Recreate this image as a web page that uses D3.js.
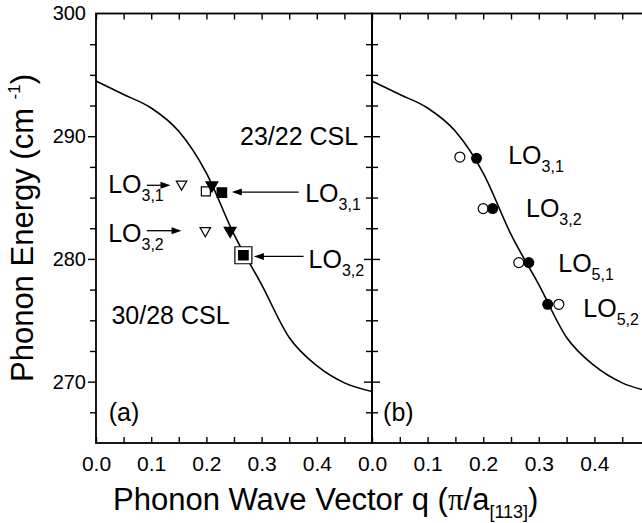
<!DOCTYPE html>
<html>
<head>
<meta charset="utf-8">
<title>Phonon dispersion, 23/22 and 30/28 CSL</title>
<style>
body { margin: 0; background: #fff; }
svg text { font-family: "Liberation Sans", Arial, Helvetica, sans-serif; fill: #000; }
</style>
</head>
<body>
<div id="chart"></div>
<script src="https://cdn.jsdelivr.net/npm/d3@7/dist/d3.min.js"></script>
<script>

// bulk LO dispersion, same curve drawn in both panels
var curveQ = [0, 0.05, 0.10, 0.15, 0.20, 0.25, 0.30, 0.35, 0.40, 0.45, 0.50];
var curveE = [294.5, 293.4, 292.3, 290.4, 287.0, 282.0, 277.9, 273.6, 271.3, 269.9, 269.2];

// panel (a) points
var aOpenTriQ = [0.155, 0.198], aOpenTriE = [286.1, 282.3];
var aFillTriQ = [0.210, 0.243], aFillTriE = [286.0, 282.3];
var aOpenSqQ = [0.199], aOpenSqE = [285.5];
var aFillSqQ = [0.228, 0.267], aFillSqE = [285.4, 280.3];
var aBigSqQ = [0.267], aBigSqE = [280.3];

// panel (b) points
var bOpenQ = [0.158, 0.200, 0.264, 0.336], bOpenE = [288.3, 284.1, 279.7, 276.3];
var bFillQ = [0.188, 0.217, 0.282, 0.316], bFillE = [288.2, 284.1, 279.7, 276.3];

var xLabelTicks = [0, 0.1, 0.2, 0.3, 0.4];
var yLabelTicks = [270, 280, 290, 300];

// annotations (data units)
var aLabels = [
  { main: 'LO', sub: '3,1', q: 0.022, E: 285.4 },
  { main: 'LO', sub: '3,2', q: 0.022, E: 281.35 },
  { main: 'LO', sub: '3,1', q: 0.379, E: 284.6 },
  { main: 'LO', sub: '3,2', q: 0.385, E: 279.3 }
];
var aArrows = [
  { from: 0.092, to: 0.135, E: 286.0 },
  { from: 0.092, to: 0.155, E: 282.3 },
  { from: 0.367, to: 0.246, E: 285.45 },
  { from: 0.376, to: 0.286, E: 280.2 }
];
var bLabels = [
  { main: 'LO', sub: '3,1', q: 0.245, E: 287.7 },
  { main: 'LO', sub: '3,2', q: 0.277, E: 283.4 },
  { main: 'LO', sub: '5,1', q: 0.335, E: 278.9 },
  { main: 'LO', sub: '5,2', q: 0.380, E: 275.3 }
];

var W = 642, H = 523,
    yTop = 13.5, yBot = 443;

var y = d3.scaleLinear().domain([265, 300]).range([yBot, yTop]);
var xa = d3.scaleLinear().domain([0, 0.5]).range([96, 372]);
var xb = d3.scaleLinear().domain([0, 0.5]).range([372, 650]);

var svg = d3.select('#chart').append('svg')
    .attr('width', W)
    .attr('height', H);

var fmt = d3.format('.1f');

function drawPanel(x, id) {
  var g = svg.append('g');
  var x0 = x.range()[0], x1 = x.range()[1];

  svg.append('clipPath').attr('id', id)
    .append('rect')
      .attr('x', x0).attr('y', yTop)
      .attr('width', x1 - x0).attr('height', yBot - yTop);

  var xt = d3.range(0, 10).map(function(i) { return i * 0.05; });

  // bottom ticks + labels
  g.append('g')
      .attr('transform', 'translate(0,' + yBot + ')')
      .call(d3.axisBottom(x).tickValues(xt).tickSizeInner(-6).tickSizeOuter(0).tickPadding(13)
        .tickFormat(function(d) {
          var r = Math.round(d * 100);
          return r % 10 === 0 ? fmt(d) : '';
        }))
      .attr('font-size', 21)
      .call(function(s) { s.select('.domain').remove(); });

  // top ticks
  g.append('g')
      .attr('transform', 'translate(0,' + yTop + ')')
      .call(d3.axisTop(x).tickValues(xt).tickSizeInner(-6).tickSizeOuter(0).tickFormat(''))
      .call(function(s) { s.select('.domain').remove(); });

  var yMinor = d3.range(0, 13).map(function(i) { return 267.5 + i * 2.5; })
      .filter(function(v) { return v % 10 !== 0; });
  var yMajor = [270, 280, 290];

  // left side ticks (point right), right side ticks (point left)
  [[d3.axisRight, x0], [d3.axisLeft, x1]].forEach(function(side) {
    var mk = side[0], pos = side[1];
    g.append('g')
        .attr('transform', 'translate(' + pos + ',0)')
        .call(mk(y).tickValues(yMinor).tickSizeInner(-6).tickSizeOuter(0).tickFormat(''))
        .call(function(s) { s.select('.domain').remove(); });
    g.append('g')
        .attr('transform', 'translate(' + pos + ',0)')
        .call(mk(y).tickValues(yMajor).tickSizeInner(-8).tickSizeOuter(0).tickFormat(''))
        .call(function(s) { s.select('.domain').remove(); });
  });

  g.selectAll('.tick line').attr('stroke-width', 1.4);

  // frame
  g.append('rect')
      .attr('x', x0).attr('y', yTop)
      .attr('width', x1 - x0).attr('height', yBot - yTop)
      .attr('fill', 'none')
      .attr('stroke', '#000')
      .attr('stroke-width', 1.8);

  // dispersion curve
  var line = d3.line()
      .x(function(d) { return x(d[0]); })
      .y(function(d) { return y(d[1]); })
      .curve(d3.curveMonotoneX);

  g.append('path')
      .datum(d3.zip(curveQ, curveE))
      .attr('clip-path', 'url(#' + id + ')')
      .attr('d', line)
      .attr('fill', 'none')
      .attr('stroke', '#000')
      .attr('stroke-width', 1.6);

  return g;
}

function loLabel(g, x, d) {
  var t = g.append('text')
      .attr('x', x(d.q))
      .attr('y', y(d.E))
      .attr('font-size', 25);
  t.append('tspan').text(d.main);
  t.append('tspan').attr('font-size', 16).attr('dy', 8).text(d.sub);
}

function arrow(g, x, d) {
  var x0 = x(d.from), x1 = x(d.to), yy = y(d.E),
      dir = x1 > x0 ? 1 : -1;
  g.append('line')
      .attr('x1', x0).attr('x2', x1 - dir * 7)
      .attr('y1', yy).attr('y2', yy)
      .attr('stroke', '#000')
      .attr('stroke-width', 1.3);
  g.append('path')
      .attr('d', 'M' + x1 + ',' + yy + 'L' + (x1 - dir * 10) + ',' + (yy - 3.5) +
                 'L' + (x1 - dir * 10) + ',' + (yy + 3.5) + 'Z')
      .attr('fill', '#000');
}

function symbols(g, x, qs, es, type, size, filled, rotate) {
  g.selectAll(null)
      .data(d3.zip(qs, es))
      .enter().append('path')
      .attr('transform', function(d) {
        return 'translate(' + x(d[0]) + ',' + y(d[1]) + ')' + (rotate ? ' rotate(180)' : '');
      })
      .attr('d', d3.symbol().type(type).size(size))
      .attr('fill', filled ? '#000' : '#fff')
      .attr('stroke', '#000')
      .attr('stroke-width', 1.2);
}

// ---- panel (a)
var ga = drawPanel(xa, 'clipA');

symbols(ga, xa, aBigSqQ, aBigSqE, d3.symbolSquare, 290, false);
symbols(ga, xa, aOpenTriQ, aOpenTriE, d3.symbolTriangle, 48, false, true);
symbols(ga, xa, aOpenSqQ, aOpenSqE, d3.symbolSquare, 80, false);
symbols(ga, xa, aFillTriQ, aFillTriE, d3.symbolTriangle, 60, true, true);
symbols(ga, xa, aFillSqQ, aFillSqE, d3.symbolSquare, 90, true);

aLabels.forEach(function(d) { loLabel(ga, xa, d); });
aArrows.forEach(function(d) { arrow(ga, xa, d); });

ga.append('text')
    .attr('x', xa(0.475)).attr('y', y(289.3))
    .attr('text-anchor', 'end')
    .attr('font-size', 25)
    .text('23/22 CSL');
ga.append('text')
    .attr('x', xa(0.028)).attr('y', y(274.7))
    .attr('font-size', 25)
    .text('30/28 CSL');
ga.append('text')
    .attr('x', xa(0.023)).attr('y', y(266.8))
    .attr('font-size', 25)
    .text('(a)');

// ---- panel (b)
var gb = drawPanel(xb, 'clipB');

gb.selectAll('circle.open')
    .data(d3.zip(bOpenQ, bOpenE))
    .enter().append('circle')
    .attr('class', 'open')
    .attr('cx', function(d) { return xb(d[0]); })
    .attr('cy', function(d) { return y(d[1]); })
    .attr('r', 5)
    .attr('fill', '#fff')
    .attr('stroke', '#000')
    .attr('stroke-width', 1.2);

gb.selectAll('circle.filled')
    .data(d3.zip(bFillQ, bFillE))
    .enter().append('circle')
    .attr('class', 'filled')
    .attr('cx', function(d) { return xb(d[0]); })
    .attr('cy', function(d) { return y(d[1]); })
    .attr('r', 5.5)
    .attr('fill', '#000');

bLabels.forEach(function(d) { loLabel(gb, xb, d); });

gb.append('text')
    .attr('x', xb(0.02)).attr('y', y(266.8))
    .attr('font-size', 25)
    .text('(b)');

// y tick labels (left panel only)
svg.append('g')
    .attr('transform', 'translate(' + xa.range()[0] + ',0)')
    .call(d3.axisLeft(y).tickValues(yLabelTicks).tickSize(0).tickPadding(10).tickFormat(d3.format('d')))
    .attr('font-size', 20)
    .call(function(s) { s.select('.domain').remove(); });

// axis titles
var yt = svg.append('text')
    .attr('transform', 'translate(33,228) rotate(-90)')
    .attr('text-anchor', 'middle')
    .attr('font-size', 31);
yt.append('tspan').text('Phonon Energy (cm ');
yt.append('tspan').attr('font-size', 17).attr('dy', -13).text('-1');
yt.append('tspan').attr('dy', 13).text(')');

var xt = svg.append('text')
    .attr('x', 113).attr('y', 510)
    .attr('font-size', 31);
xt.append('tspan').text('Phonon Wave Vector q (');
xt.append('tspan').attr('font-family', '"Liberation Serif", "DejaVu Serif", serif').text('\u03c0');
xt.append('tspan').text('/a');
xt.append('tspan').attr('font-size', 18).attr('dy', 8).text('[113]');
xt.append('tspan').attr('dy', -8).text(')');

</script>
</body>
</html>
